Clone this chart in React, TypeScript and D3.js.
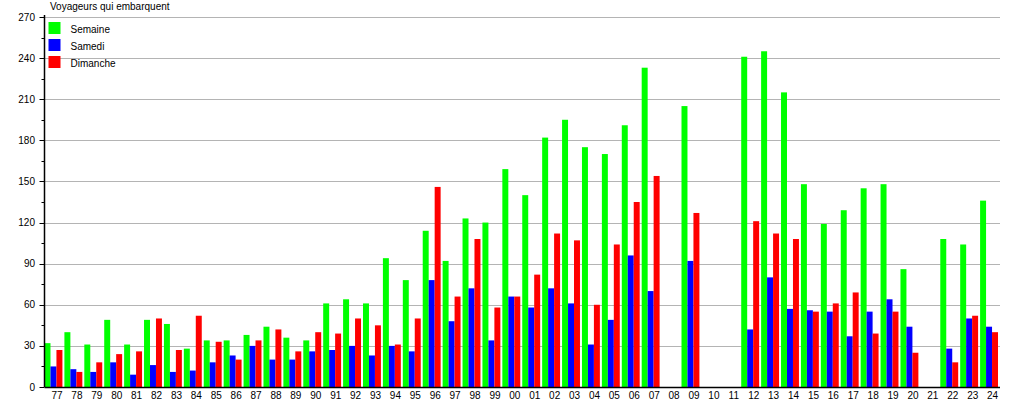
import React from "react";
import * as d3 from "d3";

const years = ["77","78","79","80","81","82","83","84","85","86","87","88","89","90","91","92","93","94","95","96","97","98","99","00","01","02","03","04","05","06","07","08","09","10","11","12","13","14","15","16","17","18","19","20","21","22","23","24"];
const semaine: (number | null)[] = [32,40,31,49,31,49,46,28,34,34,38,44,36,34,61,64,61,94,78,114,92,123,120,159,140,182,195,175,170,191,233,null,205,null,null,241,245,215,148,119,129,145,148,86,null,108,104,136];
const samedi: (number | null)[] = [15,13,11,18,9,16,11,12,18,23,30,20,20,26,27,30,23,30,26,78,48,72,34,66,58,72,61,31,49,96,70,null,92,null,null,42,80,57,56,55,37,55,64,44,null,28,50,44];
const dimanche: (number | null)[] = [27,11,18,24,26,50,27,52,33,20,34,42,26,40,39,50,45,31,50,146,66,108,58,66,82,112,107,60,104,135,154,null,127,null,null,121,112,108,55,61,69,39,55,25,null,18,52,40];
const seriesNames = ["Semaine", "Samedi", "Dimanche"];
const seriesColors = ["#00ff00", "#0000ff", "#ff0000"];
const yTicks = [0, 30, 60, 90, 120, 150, 180, 210, 240, 270];
const title = "Voyageurs qui embarquent";

export default function App() {
  const W = 1015, H = 400;
  const left = 44.5, right = 1000, top = 17, bottom = 387;
  const font = "'Liberation Sans', Arial, sans-serif";
  const x = d3.scaleBand<string>().domain(years).range([left, right]).paddingInner(0).paddingOuter(0);
  const bw = x.bandwidth();
  const inner = d3.scaleBand<string>().domain(seriesNames).range([0, bw * 0.9]);
  const y = d3.scaleLinear().domain([0, 270]).range([bottom, top]);
  const minorTicks = d3.range(15, 270, 30);
  const data = [semaine, samedi, dimanche];

  return (
    <svg width={W} height={H} style={{ position: "absolute", left: 0, top: 0 }} fontFamily={font}>
      <rect width={W} height={H} fill="#fff" />
      {yTicks.filter(t => t > 0).map(t => (
        <line key={"g" + t} x1={left} x2={right} y1={Math.round(y(t)) + 0.5} y2={Math.round(y(t)) + 0.5} stroke="#b4b4b4" strokeWidth={1} />
      ))}
      {data.map((vals, si) =>
        vals.map((v, i) =>
          v == null ? null : (
            <rect
              key={si + "-" + i}
              x={(x(years[i]) as number) + (inner(seriesNames[si]) as number)}
              y={y(v)}
              width={inner.bandwidth()}
              height={bottom - y(v)}
              fill={seriesColors[si]}
            />
          )
        )
      )}
      <line x1={left} x2={left} y1={top - 2} y2={bottom} stroke="#000" strokeWidth={1.5} />
      <line x1={left} x2={right} y1={bottom + 0.5} y2={bottom + 0.5} stroke="#000" strokeWidth={1.5} />
      {yTicks.map(t => (
        <g key={"t" + t}>
          <line x1={left - 5} x2={left} y1={Math.round(y(t)) + 0.5} y2={Math.round(y(t)) + 0.5} stroke="#000" />
          <text x={35} y={y(t) + 3.5} fontSize={10} textAnchor="end" fill="#000">{t}</text>
        </g>
      ))}
      {minorTicks.map(t => (
        <line key={"m" + t} x1={left - 3} x2={left} y1={Math.round(y(t)) + 0.5} y2={Math.round(y(t)) + 0.5} stroke="#000" />
      ))}
      {years.map(c => (
        <text key={"x" + c} x={(x(c) as number) + 12.5} y={398.5} fontSize={10} textAnchor="middle" fill="#000">{c}</text>
      ))}
      <text x={50} y={9.7} fontSize={10} fill="#000">{title}</text>
      {seriesNames.map((s, i) => (
        <g key={"l" + s}>
          <rect x={48.5} y={22 + i * 17} width={12} height={12} fill={seriesColors[i]} />
          <text x={70.5} y={33 + i * 17} fontSize={10} fill="#000">{s}</text>
        </g>
      ))}
    </svg>
  );
}
